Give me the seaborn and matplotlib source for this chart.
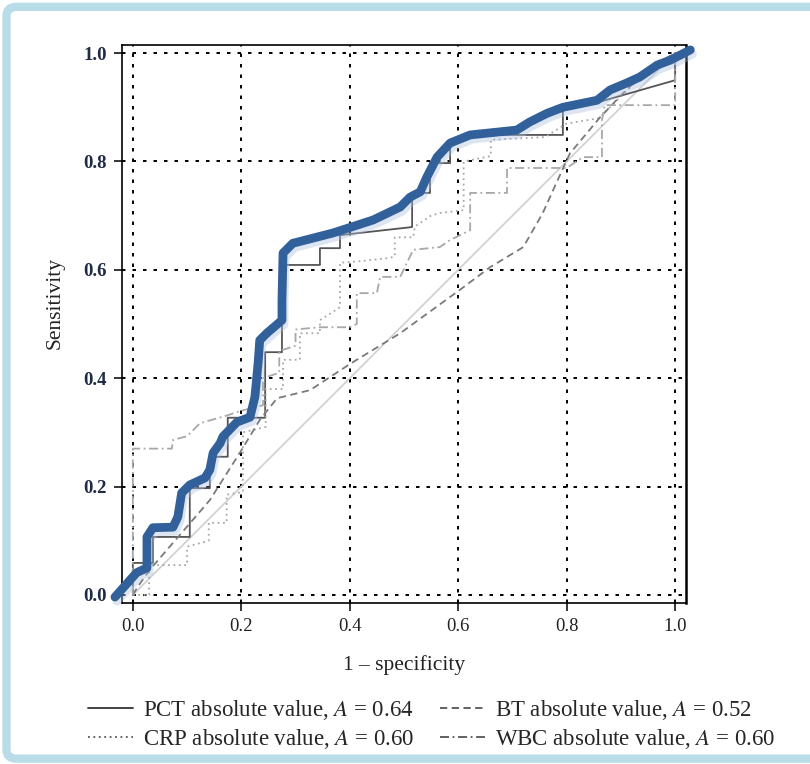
import numpy as np
import pandas as pd
import matplotlib
matplotlib.use("Agg")
import matplotlib.pyplot as plt
import matplotlib.patheffects as pe
from matplotlib.patches import FancyBboxPatch
from matplotlib.lines import Line2D
import seaborn as sns

# ---- ROC curves (1 - specificity, sensitivity) ----
pct_fpr = [0.0, 0.0, 0.037, 0.037, 0.105, 0.105, 0.142, 0.142, 0.175, 0.175, 0.244, 0.244,
           0.275, 0.275, 0.345, 0.345, 0.382, 0.382, 0.515, 0.515, 0.548, 0.548, 0.585, 0.585,
           0.62, 0.793, 0.793, 0.86, 1.0, 1.0]
pct_tpr = [0.0, 0.059, 0.059, 0.107, 0.107, 0.197, 0.197, 0.255, 0.255, 0.327, 0.327, 0.448,
           0.448, 0.609, 0.609, 0.640, 0.640, 0.664, 0.679, 0.742, 0.742, 0.797, 0.797, 0.840,
           0.849, 0.849, 0.895, 0.91, 0.95, 1.0]

crp_fpr = [0.0, 0.03, 0.03, 0.10, 0.10, 0.14, 0.14, 0.173, 0.173, 0.203, 0.203, 0.245, 0.245,
           0.277, 0.277, 0.308, 0.308, 0.345, 0.345, 0.382, 0.382, 0.42, 0.474, 0.483, 0.483,
           0.517, 0.52, 0.55, 0.566, 0.61, 0.61, 0.66, 0.66, 0.76, 0.80, 0.86, 0.95, 1.0]
crp_tpr = [0.0, 0.0, 0.055, 0.055, 0.089, 0.10, 0.133, 0.133, 0.185, 0.19, 0.30, 0.31, 0.38,
           0.38, 0.434, 0.434, 0.483, 0.483, 0.507, 0.531, 0.613, 0.616, 0.622, 0.625, 0.66,
           0.66, 0.68, 0.70, 0.705, 0.71, 0.80, 0.81, 0.84, 0.845, 0.87, 0.88, 0.97, 1.0]

bt_fpr = [0.0, 0.009, 0.031, 0.087, 0.142, 0.199, 0.234, 0.266, 0.327, 0.40, 0.493, 0.603,
          0.659, 0.72, 0.756, 0.779, 0.806, 0.862, 0.904, 0.954, 1.0]
bt_tpr = [0.0, 0.015, 0.046, 0.111, 0.175, 0.265, 0.323, 0.363, 0.378, 0.426, 0.483, 0.563,
          0.605, 0.642, 0.705, 0.756, 0.815, 0.882, 0.926, 0.974, 1.0]

wbc_fpr = [0.0, 0.0, 0.072, 0.074, 0.10, 0.124, 0.17, 0.20, 0.24, 0.24, 0.27, 0.27, 0.30, 0.30,
           0.345, 0.40, 0.413, 0.413, 0.45, 0.456, 0.493, 0.517, 0.566, 0.585, 0.622, 0.622,
           0.69, 0.69, 0.80, 0.83, 0.865, 0.865, 0.87, 1.0, 1.0]
wbc_tpr = [0.0, 0.27, 0.27, 0.286, 0.293, 0.317, 0.33, 0.34, 0.35, 0.40, 0.41, 0.45, 0.46, 0.49,
           0.494, 0.494, 0.50, 0.557, 0.557, 0.587, 0.587, 0.637, 0.642, 0.655, 0.673, 0.742,
           0.742, 0.788, 0.788, 0.808, 0.808, 0.876, 0.904, 0.904, 1.0]

# highlighted PCT trace drawn over the figure
hl_fpr = [-0.033, 0.007, 0.026, 0.026, 0.037, 0.074, 0.083, 0.090, 0.105, 0.133, 0.142, 0.148,
          0.161, 0.166, 0.192, 0.216, 0.225, 0.231, 0.234, 0.247, 0.275, 0.275, 0.277, 0.295,
          0.369, 0.443, 0.493, 0.511, 0.530, 0.542, 0.561, 0.585, 0.622, 0.708, 0.732, 0.764,
          0.793, 0.856, 0.880, 0.911, 0.935, 0.967, 0.991, 1.028]
hl_tpr = [-0.004, 0.041, 0.050, 0.107, 0.124, 0.125, 0.144, 0.188, 0.203, 0.216, 0.231, 0.262,
          0.280, 0.292, 0.319, 0.328, 0.365, 0.428, 0.470, 0.483, 0.507, 0.544, 0.631, 0.649,
          0.668, 0.692, 0.716, 0.734, 0.744, 0.771, 0.808, 0.834, 0.849, 0.858, 0.873, 0.889,
          0.900, 0.913, 0.932, 0.945, 0.956, 0.978, 0.987, 1.006]

legend_labels = ["PCT absolute value, $A$ = 0.64", "CRP absolute value, $A$ = 0.60",
                 "BT absolute value, $A$ = 0.52", "WBC absolute value, $A$ = 0.60"]
ticks = [0.0, 0.2, 0.4, 0.6, 0.8, 1.0]

sns.set_theme(style="white")
plt.rcParams["font.family"] = ["Liberation Serif", "DejaVu Serif"]
plt.rcParams["mathtext.fontset"] = "stix"

fig = plt.figure(figsize=(8.1, 7.64), dpi=100)
fig.patch.set_facecolor("white")

# rounded light-blue frame
frame = FancyBboxPatch((0.008, 0.007), 1.05, 0.984, boxstyle="round,pad=0,rounding_size=0.012",
                       transform=fig.transFigure, facecolor="none", edgecolor="#b9dde8",
                       linewidth=6, zorder=0)
fig.patches.append(frame)

ax = fig.add_axes([0.1506, 0.2107, 0.6963, 0.7304])
ax.set_xlim(-0.02, 1.02)
ax.set_ylim(-0.015, 1.015)

# dotted grid
for t in ticks:
    ax.axhline(t, color="black", lw=1.4, ls=(0, (1.8, 3.6)), zorder=1)
    ax.axvline(t, color="black", lw=1.4, ls=(0, (1.8, 3.6)), zorder=1)

# chance diagonal
sns.lineplot(x=[0, 1], y=[0, 1], ax=ax, color="#cfcfcf", lw=1.2, zorder=2)

def curve(xs, ys, **kw):
    df = pd.DataFrame({"fpr": xs, "tpr": ys})
    sns.lineplot(data=df, x="fpr", y="tpr", sort=False, estimator=None, ax=ax, **kw)

curve(pct_fpr, pct_tpr, color="#555555", lw=1.3, zorder=3)
curve(crp_fpr, crp_tpr, color="#a8a8a8", lw=1.3, ls=(0, (1, 2)), zorder=3)
curve(bt_fpr, bt_tpr, color="#7a7a7a", lw=1.3, ls=(0, (4, 2.5)), zorder=3)
curve(wbc_fpr, wbc_tpr, color="#a8a8a8", lw=1.3, ls=(0, (5, 2, 1, 2)), zorder=3)

# thick highlight
hl_df = pd.DataFrame({"fpr": hl_fpr, "tpr": hl_tpr})
sns.lineplot(data=hl_df, x="fpr", y="tpr", sort=False, estimator=None, ax=ax,
             color="#32609a", lw=6.3, zorder=5, clip_on=False,
             path_effects=[pe.SimpleLineShadow(offset=(1.5, -3), shadow_color="#a9c0dd", alpha=0.4),
                           pe.Normal()])
for ln in ax.lines[-1:]:
    ln.set_solid_capstyle("round")
    ln.set_solid_joinstyle("round")

for s in ax.spines.values():
    s.set_visible(True)
    s.set_color("black")
    s.set_linewidth(1.2)
ax.spines["right"].set_linewidth(1.8)

ax.set_xticks(ticks)
ax.set_yticks(ticks)
ax.set_xticklabels([f"{t:.1f}" for t in ticks], fontsize=13.5, color="#222222")
ax.set_yticklabels([f"{t:.1f}" for t in ticks], fontsize=13.5, color="#1f2a44", fontweight="bold")
ax.tick_params(axis="both", direction="out", length=6, width=1.1, color="black",
               bottom=True, left=True, top=False, right=False, pad=5)
ax.set_xlabel("1 \u2013 specificity", fontsize=15.5, color="#222222", labelpad=14)
ax.set_ylabel("Sensitivity", fontsize=15.5, color="#222222")
ax.yaxis.set_label_coords(-0.102, 0.538)

handles = [Line2D([], [], color="#333333", lw=1.3),
           Line2D([], [], color="#555555", lw=1.3, ls=(0, (1, 2))),
           Line2D([], [], color="#555555", lw=1.3, ls=(0, (4, 2.5))),
           Line2D([], [], color="#555555", lw=1.3, ls=(0, (5, 2, 1, 2)))]
fig.legend(handles, legend_labels, ncol=2, loc="center", bbox_to_anchor=(0.533, 0.0515),
           frameon=False, fontsize=16.5, handlelength=1.95, handletextpad=0.45,
           columnspacing=1.1, labelspacing=0.2)

fig.savefig("out.png", dpi=100, facecolor="white")
